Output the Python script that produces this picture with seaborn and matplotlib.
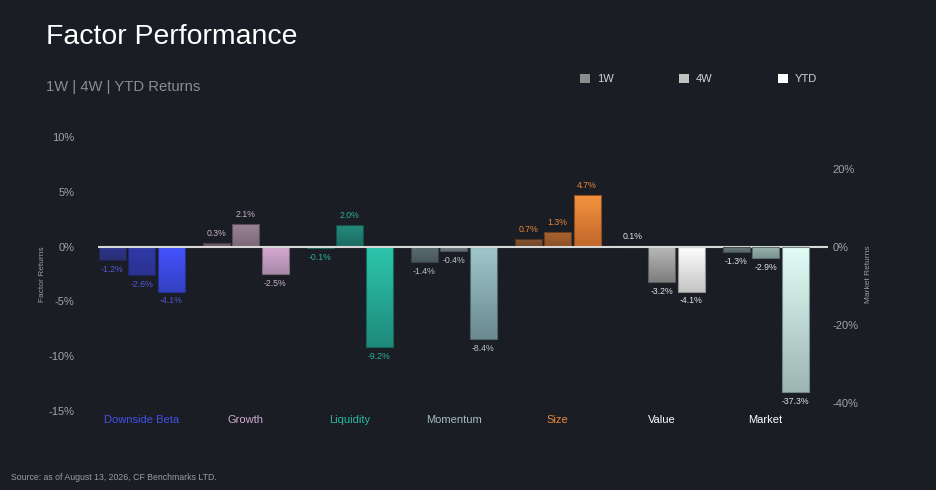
import numpy as np
import pandas as pd
import matplotlib
matplotlib.use("Agg")
import matplotlib.pyplot as plt
import matplotlib.colors as mcolors
from matplotlib.patches import Patch
import seaborn as sns

# ---------------- data ----------------
factors = ["Downside Beta", "Growth", "Liquidity", "Momentum", "Size", "Value", "Market"]
periods = ["1W", "4W", "YTD"]
ret_1w = [-1.2, 0.3, -0.1, -1.4, 0.7, 0.1, -1.3]
ret_4w = [-2.6, 2.1, 2.0, -0.4, 1.3, -3.2, -2.9]
ret_ytd = [-4.1, -2.5, -9.2, -8.4, 4.7, -4.1, -37.3]
left_ticks = [10, 5, 0, -5, -10, -15]
right_ticks = [20, 0, -20, -40]

# ---------------- style ----------------
BG = "#1a1d24"
label_colors = ["#4550e6", "#d2acd0", "#2ab8a0", "#a4bcc0", "#e8883a", "#ffffff", "#ffffff"]
value_colors = ["#5058d8", "#c8b0c8", "#2ab09a", "#b4c2c6", "#e8883a", "#e4e4e4", "#dde4e4"]
# (top, bottom) gradient colours per factor per period
bar_grad = [
    [("#2e3592", "#283072"), ("#3139aa", "#2a3290"), ("#4452ff", "#3341c2")],
    [("#6e5e6e", "#625262"), ("#9c8499", "#7a6878"), ("#d9aad5", "#a88aa8")],
    [("#1c8a78", "#1a7a6a"), ("#238a7c", "#1d6a62"), ("#2dc6ae", "#1f8a7a")],
    [("#5c6c72", "#4a585e"), ("#6e7c82", "#606e74"), ("#a0c8cc", "#6a8a90")],
    [("#8c5631", "#6a4428"), ("#aa642f", "#8a5028"), ("#f4923e", "#c0682c")],
    [("#a0a0a0", "#909090"), ("#bababa", "#7e7e7e"), ("#ffffff", "#c4c4c4")],
    [("#6c7c7a", "#5a6a68"), ("#9cb6b2", "#7a9490"), ("#e2fdf7", "#9eb6b2")],
]

sns.set_theme(style="dark")
plt.rcParams["font.family"] = ["Liberation Sans", "DejaVu Sans"]

df = pd.DataFrame({
    "factor": np.repeat(factors, 3),
    "period": periods * len(factors),
    "value": np.column_stack([ret_1w, ret_4w, ret_ytd]).ravel(),
})
df_left = df[df["factor"] != "Market"]
df_right = df[df["factor"] == "Market"]

fig = plt.figure(figsize=(9.36, 4.9), dpi=100, facecolor=BG)
ax = fig.add_axes([98 / 936, 1 - 411 / 490, (828 - 98) / 936, (411 - 137) / 490])
ax.set_facecolor(BG)
ax2 = ax.twinx()

kw = dict(x="factor", y="value", hue="period", order=factors, hue_order=periods,
          width=0.85, gap=0.08, errorbar=None, legend=False)
sns.barplot(data=df_left, ax=ax, **kw)
sns.barplot(data=df_right, ax=ax2, **kw)

XL = (-0.42, 6.6)
ax.set_ylim(-15, 10)
ax2.set_ylim(-42.05, 28.2)


def paint(axis):
    for hi, cont in enumerate(axis.containers):
        for bar in cont:
            x0 = bar.get_x()
            w = bar.get_width()
            y = bar.get_y()
            h = bar.get_height()
            ci = int(round(x0 + w / 2))
            top, bot = bar_grad[ci][hi]
            c_top = np.array(mcolors.to_rgb(top))
            c_bot = np.array(mcolors.to_rgb(bot))
            t = np.linspace(0, 1, 64)[:, None]
            grad = (c_bot * (1 - t) + c_top * t)[:, None, :]
            y_lo, y_hi = min(y, y + h), max(y, y + h)
            im = axis.imshow(grad, extent=(x0, x0 + w, y_lo, y_hi), origin="lower",
                             aspect="auto", zorder=2, interpolation="bilinear")
            im.set_clip_path(bar)
            bar.set_facecolor("none")
            bar.set_edgecolor(mcolors.to_hex(c_bot * 0.75))
            bar.set_linewidth(0.8)
            bar.set_zorder(3)
        txts = axis.bar_label(cont, fmt="%.1f%%", padding=3.5, fontsize=6.3)
        for bar, tx in zip(cont, txts):
            ci = int(round(bar.get_x() + bar.get_width() / 2))
            tx.set_color(value_colors[ci])


paint(ax)
paint(ax2)

ax.set_xlim(*XL)
ax2.set_xlim(*XL)
ax.set_ylim(-15, 10)
ax2.set_ylim(-42.05, 28.2)

ax.axhline(0, color="#d8d8d8", lw=1.5, zorder=10)

for a in (ax, ax2):
    for s in a.spines.values():
        s.set_visible(False)
    a.grid(False)
    a.set_xlabel("")

ax.set_xticks(range(len(factors)))
ax.set_xticklabels(factors, fontsize=8)
for tl, c in zip(ax.get_xticklabels(), label_colors):
    tl.set_color(c)
ax.tick_params(axis="x", length=0, pad=3)

ax.set_yticks(left_ticks)
ax.set_yticklabels([f"{v}%" for v in left_ticks], fontsize=8, color="#a2a4a8")
ax.tick_params(axis="y", length=0, pad=17)
ax.set_ylabel("Factor Returns", fontsize=6, color="#9a9ca0", labelpad=2)

ax2.set_yticks(right_ticks)
ax2.set_yticklabels([f"{v}%" for v in right_ticks], fontsize=8, color="#a2a4a8")
ax2.tick_params(axis="y", length=0, pad=3)
ax2.set_ylabel("Market Returns", fontsize=6, color="#9a9ca0", labelpad=5)
ax2.tick_params(axis="x", length=0)

# ----- titles -----
fig.text(46 / 936, 1 - 44 / 490, "Factor Performance", fontsize=20.4, color="#ffffff",
         va="baseline", ha="left")
fig.text(46 / 936, 1 - 91 / 490, "1W | 4W | YTD Returns", fontsize=10.6, color="#8a8d92",
         va="baseline", ha="left")
fig.text(11 / 936, 1 - 480 / 490, "Source: as of August 13, 2026, CF Benchmarks LTD.",
         fontsize=6.3, color="#9a9ca0", va="baseline", ha="left")

# ----- legend -----
handles = [Patch(facecolor=c, edgecolor="none", label=p)
           for c, p in zip(["#8c8c8c", "#c2c2c2", "#ffffff"], periods)]
leg = fig.legend(handles=handles, loc="center left", bbox_to_anchor=(580 / 936, 1 - 79 / 490),
                 ncol=3, frameon=False, fontsize=8, handlelength=0.9, handleheight=0.9,
                 handletextpad=0.6, columnspacing=5.9, borderpad=0, borderaxespad=0)
for tx in leg.get_texts():
    tx.set_color("#d0d2d6")

fig.savefig("out.png", dpi=100, facecolor=BG)
